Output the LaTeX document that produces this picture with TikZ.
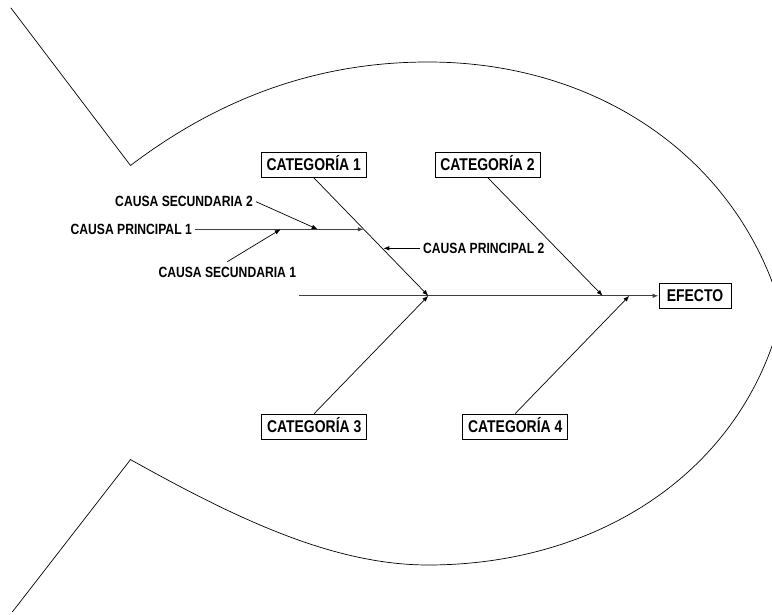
\documentclass[tikz,border=0pt]{standalone}
\usepackage{fontspec}
\newfontfamily\narrowfont{Liberation Sans}[FakeStretch=0.82]
\usetikzlibrary{arrows.meta}
\begin{document}
\begin{tikzpicture}[x=1pt,y=-1pt,
  catbox/.style={draw,line width=0.8pt,minimum width=105pt,minimum height=25pt,inner sep=0pt,
    font=\narrowfont\bfseries\fontsize{17}{20}\selectfont,text height=12.2pt,text depth=0pt},
  causelbl/.style={inner sep=3pt,font=\narrowfont\bfseries\fontsize{14.8}{17}\selectfont,text height=10.6pt,text depth=0pt},
  thinline/.style={line width=0.7pt},
  bone/.style={thinline,-{Latex[length=6pt,width=4.5pt]}},
  spine/.style={line width=1.2pt,black!75,-{Latex[length=6pt,width=4.5pt]}},
  fish/.style={line width=0.7pt}]
\useasboundingbox (0,0) rectangle (772,615);
% fish outline
\begin{scope}
\clip (0,0) rectangle (772,615);
\draw[fish] (10.8,7.8) -- (130.5,165.5)
  .. controls (230,90) and (330,62) .. (428,62)
  .. controls (600,62) and (740,160) .. (782,312)
  .. controls (745,470) and (600,565) .. (428,565)
  .. controls (330,565) and (230,515) .. (130.5,459.6)
  -- (12.3,612);
\end{scope}
% boxes
\node[catbox] (c1) at (313.7,164.8) {CATEGORÍA 1};
\node[catbox] (c2) at (487.5,164.5) {CATEGORÍA 2};
\node[catbox] (c3) at (314.2,426.5) {CATEGORÍA 3};
\node[catbox] (c4) at (515.2,426.5) {CATEGORÍA 4};
\node[catbox,minimum width=72pt,minimum height=24.5pt] (ef) at (695,295.8) {EFECTO};
% junctions
\coordinate (s0) at (299,295.8);
\coordinate (j1) at (428.3,295.8);
\coordinate (j2) at (602.7,295.8);
\coordinate (j4) at (629.3,295.8);
\coordinate (p1) at (363.8,229.3);
\coordinate (p2) at (383.3,248.3);
\coordinate (s1) at (280.7,229.3);
\coordinate (s2) at (317.7,229.3);
% spine
\draw[spine] (s0) -- (ef.west);
% category bones
\draw[bone] (c1.south) -- (j1);
\draw[bone] (c3.north) -- (j1);
\draw[bone] (c2.south) -- (j2);
\draw[bone] (c4.north) -- (j4);
% causes
\node[causelbl,anchor=east] (cp1) at (195,229.3) {CAUSA PRINCIPAL 1};
\draw[spine,line width=1.1pt] (cp1.east) -- (p1);
\node[causelbl,anchor=east] (cs2) at (256,201.7) {CAUSA SECUNDARIA 2};
\draw[bone] (cs2.east) -- (s2);
\node[causelbl,anchor=north,inner ysep=4.5pt] (cs1) at (227.3,261.7) {CAUSA SECUNDARIA 1};
\draw[bone] (cs1.north) -- (s1);
\node[causelbl,anchor=west] (cp2) at (420,248.3) {CAUSA PRINCIPAL 2};
\draw[bone] (cp2.west) -- (p2);
\end{tikzpicture}
\end{document}
